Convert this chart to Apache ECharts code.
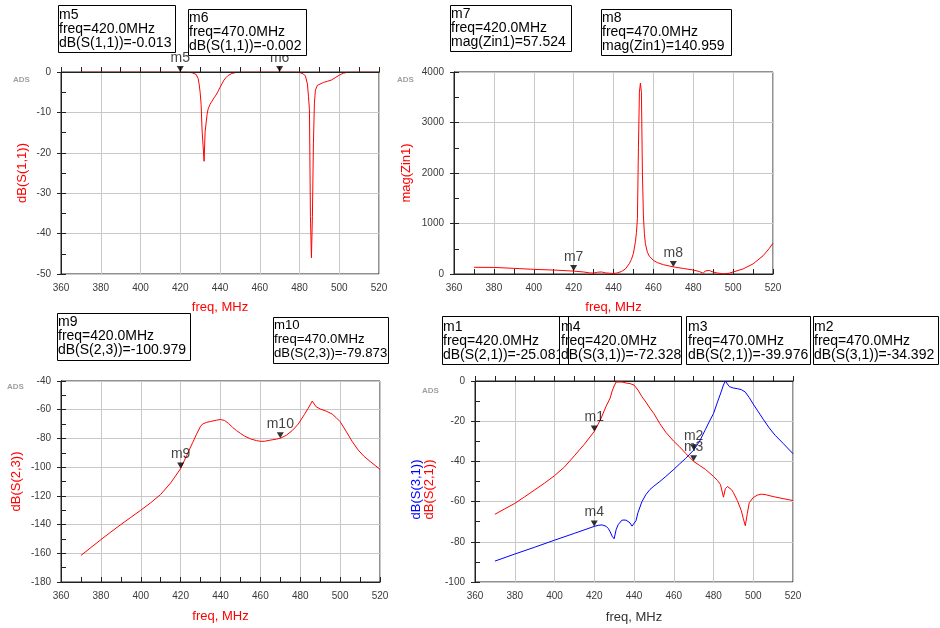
<!DOCTYPE html>
<html>
<head>
<meta charset="utf-8">
<script src="https://cdn.jsdelivr.net/npm/echarts@6/dist/echarts.min.js"></script>
<style>
  html, body { margin: 0; padding: 0; background: #fff; }
  #chart { width: 940px; height: 628px; }
</style>
</head>
<body>
<div id="chart"></div>
<script>
// Frequency sweep axis (MHz)
const freqTicks = [360, 380, 400, 420, 440, 460, 480, 500, 520];

// dB(S(1,1))
const s11Freq = [370, 380, 390, 400, 410, 420, 424, 425, 426, 427, 428, 429, 429.5, 430, 430.5, 431, 431.5, 432, 432.5, 433, 433.5, 434, 435, 436, 437, 438, 439, 440, 441, 442, 443, 444, 445, 446, 447, 448, 449, 450, 460, 470, 478, 480, 481, 482, 483, 484, 484.5, 485, 485.5, 486, 486.5, 487, 487.5, 488, 489, 490, 492, 494, 496, 498, 500, 502, 504, 506, 510, 520];
const s11dB = [-0.01, -0.01, -0.01, -0.01, -0.01, -0.013, -0.05, -0.1, -0.2, -0.35, -0.6, -1.6, -3.0, -5.0, -8.0, -14.6, -14.8, -22.1, -14.8, -14.6, -10.5, -9.2, -8.0, -7.2, -6.4, -5.7, -4.8, -3.8, -2.9, -2.0, -1.4, -0.9, -0.6, -0.35, -0.22, -0.12, -0.08, -0.04, -0.004, -0.002, -0.01, -0.1, -0.25, -0.5, -1.0, -3.0, -6.0, -9.3, -35.7, -46.0, -35.7, -17.6, -7.7, -4.5, -3.3, -3.0, -2.6, -2.3, -2.0, -1.4, -0.8, -0.3, -0.1, -0.04, -0.02, -0.01];

// mag(Zin1)
const zinFreq = [370, 380, 390, 400, 410, 420, 425, 428, 430, 432, 433, 434, 436, 438, 440, 442, 444, 446, 448, 449, 450, 451, 451.5, 452, 452.5, 453, 453.5, 454, 454.5, 455, 455.5, 456, 457, 458, 460, 462, 465, 470, 475, 480, 483, 485, 486, 487, 488, 490, 492, 495, 498, 500, 505, 510, 515, 518, 520];
const zinMag = [133, 130, 112, 92, 78, 57.524, 40, 22, 18, 35, 46, 40, 22, 15, 10, 22, 50, 100, 210, 290, 410, 640, 820, 1100, 2500, 3600, 3780, 3600, 2000, 1150, 800, 600, 430, 350, 270, 225, 185, 140.959, 110, 78, 50, 15, 60, 90, 70, 38, 20, 3, 15, 40, 100, 200, 360, 500, 610];

// dB(S(2,3))
const s23Freq = [370, 375, 380, 385, 390, 395, 400, 405, 410, 415, 420, 423, 426, 428, 430, 431, 433, 435, 438, 440, 442, 444, 446, 448, 450, 452, 455, 458, 460, 462, 465, 468, 470, 473, 476, 479, 482, 484, 486, 487, 488, 490, 493, 496, 498, 500, 503, 506, 509, 512, 515, 518, 520];
const s23dB = [-161.5, -156, -150.5, -145.2, -140, -135, -130, -124.8, -119, -111, -100.979, -92, -83, -77, -71.5, -70, -68.8, -68.2, -67.3, -66.8, -67.5, -69.5, -72.2, -74.5, -76.5, -78.3, -80.3, -81.5, -82, -82, -81.2, -80.5, -79.873, -77.8, -74.5, -70, -63.5, -59, -54, -56, -58, -59.5, -61, -63, -65.5, -68.3, -75, -82, -88, -92.5, -96, -99.3, -101.5];

// dB(S(2,1))
const s21Freq = [370, 375, 380, 385, 390, 395, 400, 405, 410, 415, 420, 423, 426, 428, 429, 430, 431, 432, 434, 436, 438, 440, 442, 444, 446, 448, 450, 453, 456, 460, 463, 466, 470, 473, 476, 480, 482, 483.5, 485, 486, 487, 488, 489, 490, 492, 494, 495, 496, 497, 498, 500, 502, 504, 506, 510, 515, 520];
const s21dB = [-66.3, -63.6, -60.9, -57.6, -54.2, -50.8, -47.1, -42.8, -37.2, -31.5, -25.081, -19.5, -12.5, -8.5, -5, -2.5, -0.5, 0, -0.5, -1.0, -1.3, -2.0, -4.5, -7.8, -10.5, -13.5, -16.2, -21.2, -25.5, -30, -32.8, -36, -39.976, -42, -44, -47.5, -49.5, -51.5, -57.8, -53.5, -52.5, -52.8, -54, -55.5, -59.5, -64.5, -68.5, -72, -66, -60.5, -58, -56.8, -56.3, -56.5, -57.5, -58.5, -59.5];

// dB(S(3,1))
const s31Freq = [370, 380, 390, 400, 410, 420, 422, 424, 425, 426, 427, 428, 429, 430, 431, 432, 434, 436, 437, 438, 439, 440, 441, 442, 444, 446, 448, 450, 453, 456, 460, 463, 466, 470, 473, 476, 478, 480, 482, 484, 485, 486, 487, 488, 490, 492, 494, 496, 498, 500, 502, 505, 508, 511, 515, 520];
const s31dB = [-89.6, -86.1, -82.7, -79.2, -75.8, -72.328, -71.8, -71.6, -71.8, -72.3, -73.3, -75, -77.2, -78.5, -74, -71.5, -69.2, -69.2, -69.8, -70.6, -72.2, -72.5, -69.5, -65.5, -60, -56.5, -54, -52.3, -50, -47.5, -44, -41.2, -38.5, -34.392, -30, -24, -20, -16.2, -10.5, -5, -2, 0, -1.5, -2.8, -3.5, -3.8, -4.3, -5.5, -8.3, -11.5, -14.5, -19, -23.3, -27, -31, -36.2];

// Marker frequencies
const markerFreqLow = 420;
const markerFreqHigh = 470;

const FONT = 'Liberation Sans, Arial, sans-serif';
const RED = '#ff0000';
const BLUE = '#0000ff';
const AXIS = '#222';
const LABEL = '#3a3a3a';
const GRIDLINE = '#c8c8c8';

const pairs = (xs, ys) => xs.map((x, i) => [x, ys[i]]);
const valueAt = (xs, ys, f) => ys[xs.indexOf(f)];

const grids = [
  { left: 61, top: 72, width: 318, height: 202 },
  { left: 454, top: 72, width: 319, height: 202 },
  { left: 61, top: 381, width: 319, height: 201 },
  { left: 475, top: 381, width: 318, height: 201 }
].map(g => Object.assign({ show: true, borderColor: AXIS, borderWidth: 1, backgroundColor: 'transparent' }, g));

function xAxisFor(gi, nameColor, nameGap) {
  return {
    type: 'value', gridIndex: gi, position: 'bottom',
    min: freqTicks[0], max: freqTicks[freqTicks.length - 1], interval: 20,
    name: 'freq, MHz', nameLocation: 'middle', nameGap: nameGap,
    nameTextStyle: { color: nameColor, fontSize: 13, fontFamily: FONT },
    axisLine: { show: true, lineStyle: { color: AXIS, width: 1 } },
    axisTick: { show: true, inside: true, length: 5, lineStyle: { color: AXIS } },
    minorTick: { show: true, splitNumber: 2, length: 5, lineStyle: { color: AXIS } },
    axisLabel: { color: LABEL, fontSize: 10, fontFamily: FONT, margin: 9 },
    splitLine: { show: true, lineStyle: { color: GRIDLINE, width: 1 } }
  };
}

function yAxisFor(gi, min, max, interval, name, nameColor, nameGap, namePadding) {
  return {
    type: 'value', gridIndex: gi, position: 'left',
    min: min, max: max, interval: interval,
    name: name, nameLocation: 'middle', nameGap: nameGap,
    nameTextStyle: { color: nameColor, fontSize: 13, fontFamily: FONT, padding: namePadding || 0 },
    axisLine: { show: true, lineStyle: { color: AXIS, width: 1 } },
    axisTick: { show: true, inside: true, length: 5, lineStyle: { color: AXIS } },
    minorTick: { show: true, splitNumber: 2, length: 5, lineStyle: { color: AXIS } },
    axisLabel: { color: LABEL, fontSize: 10, fontFamily: FONT, margin: 10,
                 formatter: v => String(v) },
    splitLine: { show: true, lineStyle: { color: GRIDLINE, width: 1 } }
  };
}

// Companion y axis: short outward major ticks (and optional second name)
function yOuterTicks(gi, min, max, interval, name, nameColor, nameGap, namePadding) {
  return {
    type: 'value', gridIndex: gi, position: 'left', offset: 0,
    min: min, max: max, interval: interval,
    name: name || '', nameLocation: 'middle', nameGap: nameGap || 0,
    nameTextStyle: { color: nameColor || RED, fontSize: 13, fontFamily: FONT, padding: namePadding || 0 },
    axisLine: { show: true, lineStyle: { color: AXIS, width: 1 } },
    axisTick: { show: true, inside: false, length: 4, lineStyle: { color: AXIS } },
    axisLabel: { show: false },
    splitLine: { show: false }
  };
}

const xAxes = [
  xAxisFor(0, RED, 27),
  xAxisFor(1, RED, 27),
  xAxisFor(2, RED, 28),
  xAxisFor(3, '#333', 29),
  // frame line drawn above the S11 trace
  { type: 'value', gridIndex: 0, position: 'top', min: 360, max: 520, z: 10,
    axisLine: { show: true, lineStyle: { color: AXIS, width: 1 } },
    axisTick: { show: false }, axisLabel: { show: false }, splitLine: { show: false } }
];

const yAxes = [
  yAxisFor(0, -50, 0, 10, 'dB(S(1,1))', RED, 32),
  yAxisFor(1, 0, 4000, 1000, 'mag(Zin1)', RED, 41),
  yAxisFor(2, -180, -40, 20, 'dB(S(2,3))', RED, 38),
  yAxisFor(3, -100, 0, 20, 'dB(S(2,1))', RED, 39, [0, 16, 0, 0]),
  yOuterTicks(0, -50, 0, 10),
  yOuterTicks(1, 0, 4000, 1000),
  yOuterTicks(2, -180, -40, 20),
  yOuterTicks(3, -100, 0, 20, 'dB(S(3,1))', BLUE, 52, [0, 16, 0, 0])
];

function trace(gi, xs, ys, color) {
  return {
    type: 'line', xAxisIndex: gi, yAxisIndex: gi,
    data: pairs(xs, ys), showSymbol: false, symbol: 'none',
    lineStyle: { color: color, width: 1 }, itemStyle: { color: color },
    z: 3, silent: true
  };
}

const TRI = 'path://M0,0L10,0L5,9Z';
function markers(gi, points) {
  return {
    type: 'scatter', xAxisIndex: gi, yAxisIndex: gi, clip: false, z: 6,
    symbol: TRI, symbolSize: [7, 6], symbolOffset: [0, -3],
    itemStyle: { color: '#000' },
    data: points.map(p => ({ value: [p.f, p.v], name: p.name })),
    label: { show: true, position: 'top', distance: 1, formatter: '{b}',
             color: '#111', fontSize: 14, fontFamily: FONT }
  };
}

const mk = {
  m5: { f: markerFreqLow, v: valueAt(s11Freq, s11dB, markerFreqLow) },
  m6: { f: markerFreqHigh, v: valueAt(s11Freq, s11dB, markerFreqHigh) },
  m7: { f: markerFreqLow, v: valueAt(zinFreq, zinMag, markerFreqLow) },
  m8: { f: markerFreqHigh, v: valueAt(zinFreq, zinMag, markerFreqHigh) },
  m9: { f: markerFreqLow, v: valueAt(s23Freq, s23dB, markerFreqLow) },
  m10: { f: markerFreqHigh, v: valueAt(s23Freq, s23dB, markerFreqHigh) },
  m1: { f: markerFreqLow, v: valueAt(s21Freq, s21dB, markerFreqLow) },
  m3: { f: markerFreqHigh, v: valueAt(s21Freq, s21dB, markerFreqHigh) },
  m4: { f: markerFreqLow, v: valueAt(s31Freq, s31dB, markerFreqLow) },
  m2: { f: markerFreqHigh, v: valueAt(s31Freq, s31dB, markerFreqHigh) }
};
Object.keys(mk).forEach(k => { mk[k].name = k; });

const series = [
  trace(0, s11Freq, s11dB, RED),
  trace(1, zinFreq, zinMag, RED),
  trace(2, s23Freq, s23dB, RED),
  trace(3, s21Freq, s21dB, RED),
  trace(3, s31Freq, s31dB, BLUE),
  markers(0, [mk.m5, mk.m6]),
  markers(1, [mk.m7, mk.m8]),
  markers(2, [mk.m9, mk.m10]),
  markers(3, [mk.m1, mk.m4, mk.m3, mk.m2])
];

// Marker readout boxes
function frame(box, z) {
  return { type: 'rect', z: z, shape: { x: box[0] + 0.5, y: box[1] + 0.5, width: box[2], height: box[3] },
           style: { fill: 'none', stroke: '#000', lineWidth: 1 } };
}

const boxes = [
  { key: 'm5', label: 'dB(S(1,1))', box: [58, 5, 117, 47], tx: 59, ty: 8, fs: 14 },
  { key: 'm6', label: 'dB(S(1,1))', box: [188, 9, 118, 46], tx: 189, ty: 11, fs: 14 },
  { key: 'm7', label: 'mag(Zin1)', box: [450, 5, 121, 46], tx: 451, ty: 7, fs: 14 },
  { key: 'm8', label: 'mag(Zin1)', box: [601, 9, 130, 46], tx: 602, ty: 11, fs: 14 },
  { key: 'm9', label: 'dB(S(2,3))', box: [57, 313, 133, 47], tx: 58, ty: 315, fs: 14 },
  { key: 'm10', label: 'dB(S(2,3))', box: [273, 317, 115, 46], tx: 274, ty: 318, fs: 13.2 },
  { key: 'm1', label: 'dB(S(2,1))', box: [442, 316, 126, 48], tx: 443, ty: 320, fs: 14 },
  { key: 'm4', label: 'dB(S(3,1))', box: [559, 316, 122, 48], tx: 561, ty: 320, fs: 14 },
  { key: 'm3', label: 'dB(S(2,1))', box: [686, 316, 124, 48], tx: 688, ty: 320, fs: 14 },
  { key: 'm2', label: 'dB(S(3,1))', box: [813, 316, 125, 48], tx: 814, ty: 320, fs: 14 }
];

const graphics = [];
boxes.forEach((b, i) => {
  const z = 100 + i * 3;
  // white background, text, then border
  graphics.push({ type: 'rect', z: z, shape: { x: b.box[0] + 0.5, y: b.box[1] + 0.5, width: b.box[2], height: b.box[3] },
                  style: { fill: '#fff' } });
  const m = mk[b.key];
  graphics.push({ type: 'text', z: z + 1, x: b.tx, y: b.ty,
    style: { text: b.key + '\nfreq=' + m.f.toFixed(1) + 'MHz\n' + b.label + '=' + m.v.toFixed(3),
             fill: '#000', font: b.fs + 'px ' + FONT, lineHeight: 14, textVerticalAlign: 'top' } });
  graphics.push(frame(b.box, b.key === 'm1' ? 200 : z + 2));
});

// "ADS" tags at the top-left of each plot
[[13, 76], [397, 76], [7, 383], [422, 387]].forEach(p => {
  graphics.push({ type: 'text', z: 50, x: p[0], y: p[1],
    style: { text: 'ADS', fill: '#a0a0a0', font: 'bold 8px ' + FONT } });
});

const chart = echarts.init(document.getElementById('chart'), null, { renderer: 'canvas' });
chart.setOption({
  animation: false,
  backgroundColor: '#fff',
  textStyle: { fontFamily: FONT },
  grid: grids,
  xAxis: xAxes,
  yAxis: yAxes,
  series: series,
  graphic: graphics
});
</script>
</body>
</html>
